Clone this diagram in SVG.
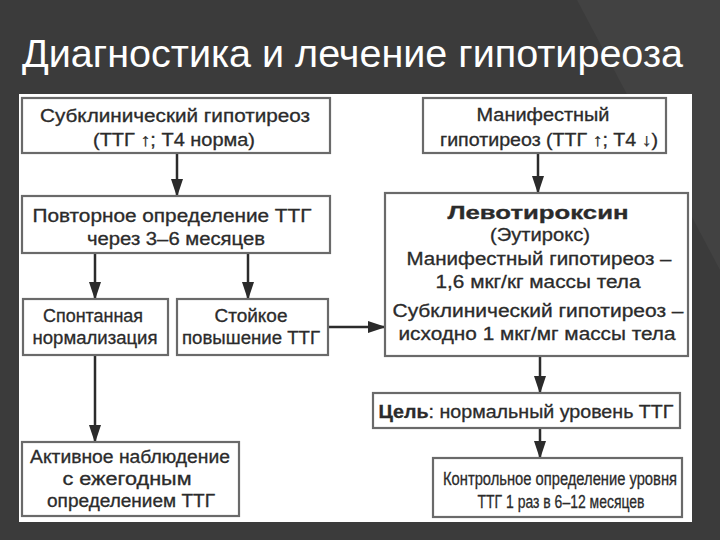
<svg xmlns="http://www.w3.org/2000/svg" width="720" height="540" viewBox="0 0 720 540">
  <defs>
    <style>
      .box { fill: #ffffff; stroke: #6a6a6a; stroke-width: 2.2; }
      .t { font-family: "Liberation Sans", Arial, sans-serif; font-size: 17.5px; fill: #2b2b2b; stroke: #2b2b2b; stroke-width: 0.3; text-anchor: middle; }
      .b { font-weight: bold; }
      .title { font-family: "Liberation Sans", Arial, sans-serif; font-size: 39px; fill: #ffffff; }
      .conn { stroke: #2b2b2b; stroke-width: 2.5; fill: none; marker-end: url(#ah); }
    </style>
    <marker id="ah" markerUnits="userSpaceOnUse" markerWidth="18" markerHeight="12" refX="17" refY="6" orient="auto">
      <path d="M0,0 L18,6 L0,12 Z" fill="#2b2b2b"/>
    </marker>
  </defs>

  <rect x="0" y="0" width="720" height="540" fill="#3b3b3b"/>
  <polygon points="577,0 720,0 720,270" fill="#424242"/>

  <text class="title" x="22" y="67" textLength="661" lengthAdjust="spacingAndGlyphs">Диагностика и лечение гипотиреоза</text>

  <rect x="19" y="94" width="673" height="428" fill="#ffffff"/>

  <g id="connectors">
    <line class="conn" x1="177" y1="154" x2="177" y2="196"/>
    <line class="conn" x1="95" y1="254" x2="95" y2="299"/>
    <line class="conn" x1="248" y1="254" x2="248" y2="299"/>
    <line class="conn" x1="329" y1="327" x2="385" y2="327"/>
    <line class="conn" x1="538" y1="154" x2="538" y2="193"/>
    <line class="conn" x1="540" y1="357" x2="540" y2="393"/>
    <line class="conn" x1="540" y1="429" x2="540" y2="458"/>
    <line class="conn" x1="95" y1="356" x2="95" y2="442"/>
  </g>

  <g id="subclinical">
    <rect class="box" x="22" y="98" width="308" height="55"/>
    <text class="t" x="175" y="122" textLength="270" lengthAdjust="spacingAndGlyphs">Субклинический гипотиреоз</text>
    <text class="t" x="174" y="146" textLength="162" lengthAdjust="spacingAndGlyphs">(ТТГ ↑; Т4 норма)</text>
  </g>

  <g id="repeat">
    <rect class="box" x="22" y="196" width="308" height="57"/>
    <text class="t" x="172" y="222" textLength="279" lengthAdjust="spacingAndGlyphs">Повторное определение ТТГ</text>
    <text class="t" x="176" y="245" textLength="178" lengthAdjust="spacingAndGlyphs">через 3–6 месяцев</text>
  </g>

  <g id="spontaneous">
    <rect class="box" x="23" y="299" width="145" height="56"/>
    <text class="t" x="93" y="322" textLength="100" lengthAdjust="spacingAndGlyphs">Спонтанная</text>
    <text class="t" x="95" y="344" textLength="125" lengthAdjust="spacingAndGlyphs">нормализация</text>
  </g>

  <g id="persistent">
    <rect class="box" x="177" y="299" width="151" height="56"/>
    <text class="t" x="251" y="322" textLength="73" lengthAdjust="spacingAndGlyphs">Стойкое</text>
    <text class="t" x="251" y="344" textLength="138" lengthAdjust="spacingAndGlyphs">повышение ТТГ</text>
  </g>

  <g id="observation">
    <rect class="box" x="22" y="442" width="217" height="74"/>
    <text class="t" x="130" y="463" textLength="200" lengthAdjust="spacingAndGlyphs">Активное наблюдение</text>
    <text class="t" x="127" y="485" textLength="129" lengthAdjust="spacingAndGlyphs">с ежегодным</text>
    <text class="t" x="131" y="507" textLength="168" lengthAdjust="spacingAndGlyphs">определением ТТГ</text>
  </g>

  <g id="manifest">
    <rect class="box" x="423" y="98" width="243" height="55"/>
    <text class="t" x="543" y="121" textLength="133" lengthAdjust="spacingAndGlyphs">Манифестный</text>
    <text class="t" x="549" y="146" textLength="218" lengthAdjust="spacingAndGlyphs">гипотиреоз (ТТГ ↑; Т4 ↓)</text>
  </g>

  <g id="levothyroxine">
    <rect class="box" x="385" y="193" width="303" height="163"/>
    <text class="t b" x="538" y="219" font-size="19" textLength="181" lengthAdjust="spacingAndGlyphs">Левотироксин</text>
    <text class="t" x="540" y="241" textLength="100" lengthAdjust="spacingAndGlyphs">(Эутирокс)</text>
    <text class="t" x="539" y="265" textLength="265" lengthAdjust="spacingAndGlyphs">Манифестный гипотиреоз –</text>
    <text class="t" x="538" y="288" textLength="205" lengthAdjust="spacingAndGlyphs">1,6 мкг/кг массы тела</text>
    <text class="t" x="538" y="317" textLength="291" lengthAdjust="spacingAndGlyphs">Субклинический гипотиреоз –</text>
    <text class="t" x="537" y="340" textLength="277" lengthAdjust="spacingAndGlyphs">исходно 1 мкг/мг массы тела</text>
  </g>

  <g id="goal">
    <rect class="box" x="373" y="393" width="307" height="35"/>
    <text class="t" x="526" y="418" font-size="20" textLength="295" lengthAdjust="spacingAndGlyphs"><tspan class="b">Цель</tspan>: нормальный уровень ТТГ</text>
  </g>

  <g id="control">
    <rect class="box" x="433" y="458" width="249" height="59"/>
    <text class="t" x="560" y="485" font-size="15.5" textLength="234" lengthAdjust="spacingAndGlyphs">Контрольное определение уровня</text>
    <text class="t" x="561" y="508" font-size="15.5" textLength="167" lengthAdjust="spacingAndGlyphs">ТТГ 1 раз в 6–12 месяцев</text>
  </g>
</svg>
